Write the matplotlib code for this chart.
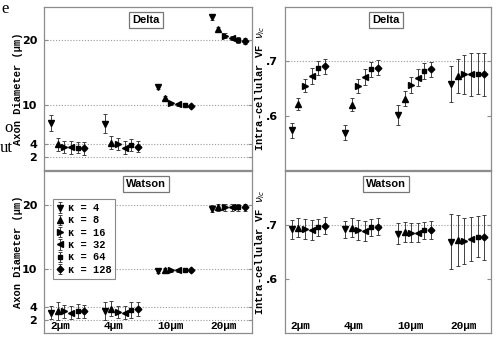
import numpy as np
import matplotlib
matplotlib.use("Agg")
import matplotlib.pyplot as plt
from matplotlib.transforms import blended_transform_factory

# categories and series
sizes = ["2\u00b5m", "4\u00b5m", "10\u00b5m", "20\u00b5m"]
kappas = [4, 8, 16, 32, 64, 128]
markers = ["v", "^", ">", "<", "s", "D"]

# rows = axon size group, columns = kappa
delta_diam = [
    [7.2, 3.95, 3.55, 3.5, 3.45, 3.3],
    [7.1, 4.2, 3.95, 3.45, 3.8, 3.6],
    [12.7, 11.1, 10.2, 10.05, 9.9, 9.8],
    [23.4, 21.6, 20.6, 20.3, 19.95, 19.8],
]
delta_diam_err = [
    [1.2, 1.0, 0.9, 1.0, 0.9, 1.0],
    [1.5, 1.0, 0.9, 1.0, 0.9, 0.9],
    [0.3, 0.3, 0.2, 0.2, 0.2, 0.2],
    [0.45, 0.4, 0.4, 0.3, 0.4, 0.4],
]
watson_diam = [
    [3.2, 3.5, 3.4, 3.2, 3.5, 3.4],
    [3.5, 3.8, 3.3, 3.2, 3.6, 3.7],
    [9.7, 9.85, 9.8, 9.8, 9.8, 9.8],
    [19.5, 19.7, 19.7, 19.7, 19.7, 19.7],
]
watson_diam_err = [
    [1.0, 1.4, 1.0, 1.0, 1.1, 1.0],
    [1.4, 1.2, 1.0, 1.0, 1.3, 1.1],
    [0.3, 0.3, 0.3, 0.3, 0.3, 0.3],
    [0.5, 0.5, 0.5, 0.5, 0.5, 0.5],
]
delta_vf = [
    [0.573, 0.621, 0.655, 0.673, 0.687, 0.691],
    [0.569, 0.620, 0.654, 0.671, 0.685, 0.688],
    [0.601, 0.631, 0.656, 0.670, 0.682, 0.685],
    [0.659, 0.673, 0.676, 0.676, 0.677, 0.676],
]
delta_vf_err = [
    [0.014, 0.011, 0.012, 0.015, 0.013, 0.014],
    [0.014, 0.012, 0.013, 0.014, 0.013, 0.014],
    [0.018, 0.014, 0.015, 0.016, 0.015, 0.014],
    [0.033, 0.031, 0.036, 0.039, 0.038, 0.040],
]
watson_vf = [
    [0.692, 0.695, 0.693, 0.691, 0.696, 0.699],
    [0.692, 0.695, 0.691, 0.689, 0.696, 0.697],
    [0.684, 0.687, 0.686, 0.686, 0.690, 0.691],
    [0.669, 0.672, 0.670, 0.674, 0.678, 0.677],
]
watson_vf_err = [
    [0.017, 0.018, 0.018, 0.019, 0.016, 0.016],
    [0.016, 0.018, 0.018, 0.019, 0.016, 0.016],
    [0.019, 0.018, 0.018, 0.018, 0.016, 0.016],
    [0.051, 0.047, 0.043, 0.041, 0.038, 0.041],
]

offsets = np.linspace(-0.31, 0.31, len(kappas))
mono = "Liberation Mono"
grey = "#8c8c8c"


def panel(ax, vals, errs, title, ylim, yticks, yticklabels, gridvals, ylabel, xlabels):
    vals = np.array(vals)
    errs = np.array(errs)
    for k, m in enumerate(markers):
        x = np.arange(len(sizes)) + offsets[k]
        ms = 4.6 if m in "v^<>" else 3.4
        ax.errorbar(x, vals[:, k], yerr=errs[:, k], fmt=m, color="black", ms=ms,
                    ecolor="#404040", elinewidth=0.7, capsize=1.6, capthick=0.7,
                    label="\u03ba = %d" % kappas[k], zorder=3)
    for g in gridvals:
        ax.axhline(g, color="#9a9a9a", lw=0.8, ls=(0, (1, 1.6)), zorder=1)
    ax.set_xlim(-0.44, 3.44)
    ax.set_ylim(*ylim)
    ax.set_yticks(yticks)
    ax.set_yticklabels(yticklabels, fontsize=8, fontweight="bold")
    ax.set_xticks([])
    ax.tick_params(axis="y", direction="in", length=3, color=grey, right=True, pad=5)
    for s in ax.spines.values():
        s.set_color(grey)
        s.set_linewidth(0.9)
    ax.set_ylabel(ylabel, family=mono, fontweight="bold", fontsize=7.5, labelpad=-1)
    ax.text(0.49, 0.92, title, transform=ax.transAxes, ha="center", va="center",
            fontsize=8, fontweight="bold", family="Liberation Sans",
            bbox=dict(boxstyle="square,pad=0.3", fc="white", ec="#777777", lw=0.9))
    if xlabels:
        tr = blended_transform_factory(ax.transData, ax.transAxes)
        for i, lab in enumerate(sizes):
            ax.text(i + offsets[0] - 0.02, 0.025, lab, transform=tr, ha="left",
                    va="baseline", family=mono, fontweight="bold", fontsize=8)


fig = plt.figure(figsize=(4.98, 3.37), dpi=100)
lx, lw_ = 44 / 498, 208 / 498
rx, rw = 285 / 498, 206 / 498
ty, th = 1 - 170 / 337, 163 / 337
by, bh = 1 - 333 / 337, 162 / 337

ax1 = fig.add_axes([lx, ty, lw_, th])
ax2 = fig.add_axes([rx, ty, rw, th])
ax3 = fig.add_axes([lx, by, lw_, bh])
ax4 = fig.add_axes([rx, by, rw, bh])

dlab = "Axon Diameter (\u00b5m)"
vlab = "Intra-cellular VF $\\nu_{ic}$"
panel(ax1, delta_diam, delta_diam_err, "Delta", (0, 25), [2, 4, 10, 20],
      ["2", "4", "10", "20"], [2, 4, 10, 20], dlab, False)
panel(ax2, delta_vf, delta_vf_err, "Delta", (0.5, 0.8), [0.6, 0.7],
      [".6", ".7"], [0.7], vlab, False)
panel(ax3, watson_diam, watson_diam_err, "Watson", (0, 25.4), [2, 4, 10, 20],
      ["2", "4", "10", "20"], [2, 4, 10, 20], dlab, True)
panel(ax4, watson_vf, watson_vf_err, "Watson", (0.5, 0.8), [0.6, 0.7],
      [".6", ".7"], [0.7], vlab, True)

leg = ax3.legend(loc="upper left", bbox_to_anchor=(0.043, 0.827), borderaxespad=0,
                 prop=dict(family=mono, weight="bold", size=7.5), handlelength=0.6,
                 handletextpad=0.4, labelspacing=0.22, borderpad=0.4,
                 fancybox=False, framealpha=1, edgecolor="#888888")
leg.get_frame().set_linewidth(0.8)

# fragments of the surrounding page text
fig.text(9 / 498, 1 - 13 / 337, "e", family="Liberation Serif", fontsize=12,
         ha="right", va="baseline")
fig.text(13 / 498, 1 - 132 / 337, "o", family="Liberation Serif", fontsize=12,
         ha="right", va="baseline")
fig.text(13 / 498, 1 - 152 / 337, "ut", family="Liberation Serif", fontsize=12,
         ha="right", va="baseline")

fig.savefig("out.png", dpi=100)
